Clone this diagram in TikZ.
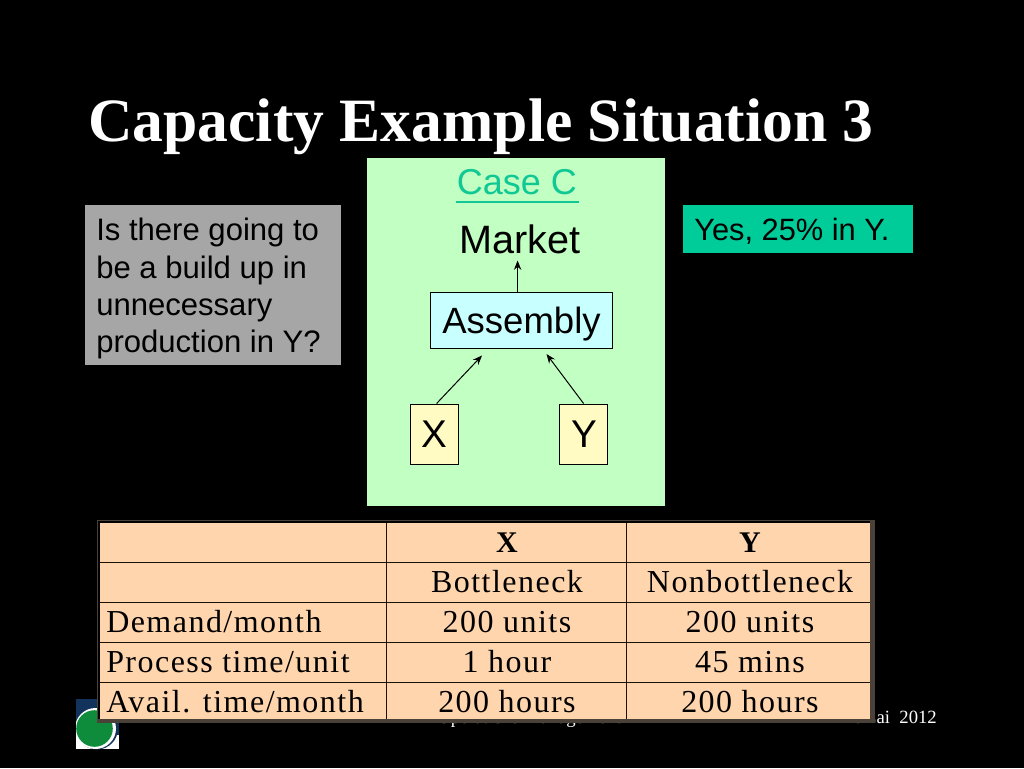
\documentclass[tikz,border=0pt]{standalone}
\usepackage{fontspec}
\setmainfont{Liberation Serif}
\setsansfont{Liberation Sans}
\newfontfamily\tabfont[LetterSpace=4.6]{Liberation Serif}
\usetikzlibrary{arrows.meta}
\definecolor{casegreen}{HTML}{C2FFC2}
\definecolor{casehead}{HTML}{10C894}
\definecolor{asmblue}{HTML}{C8FFFF}
\definecolor{partyel}{HTML}{FFFBC2}
\definecolor{askgrey}{HTML}{A6A6A6}
\definecolor{ansgreen}{HTML}{00CC99}
\definecolor{tabfill}{HTML}{FFD5AD}
\definecolor{tabline}{HTML}{1E1208}
\definecolor{tabedge}{HTML}{4A4238}
\definecolor{logonavy}{HTML}{12335C}
\definecolor{logogreen}{HTML}{0E8C3C}
\tikzset{
  px/.style={x=0.75pt,y=-0.75pt},
  sf/.style={font=\sffamily\fontsize{#1}{#1}\selectfont,text=black},
  partbox/.style={draw=black,line width=0.9pt,minimum width=36pt,minimum height=45pt,inner sep=0pt,fill=partyel},
  conn/.style={line width=0.75pt,-{Stealth[length=7pt,width=5.5pt]}},
  tabcell/.style={font=\tabfont\fontsize{24}{24}\selectfont,text=black,inner sep=0pt,anchor=base},
  tabhead/.style={font=\tabfont\bfseries\fontsize{22.5}{22.5}\selectfont,text=black,inner sep=0pt,anchor=base},
  tabrow/.style={font=\tabfont\fontsize{24}{24}\selectfont,text=black,inner sep=0pt,anchor=base west},
  tabrule/.style={draw=tabline,line width=0.9pt}
}
\begin{document}
\begin{tikzpicture}[px]
\useasboundingbox (0,0) rectangle (1024,768);
\fill[black] (0,0) rectangle (1024,768);
% logo
\begin{scope}
\clip (76,699) rectangle (119,749);
\fill[logonavy] (76,699) rectangle (119,735);
\fill[white] (76,735) rectangle (119,749);
\fill[logonavy] (97,728.5) circle (21);
\fill[white] (95.5,728.5) circle (20.5);
\fill[logogreen] (94.5,728.5) circle (18.3);
\end{scope}
% footer (mostly behind the table)
\node[anchor=base east,text=white,inner sep=0pt,font=\fontsize{14}{14}\selectfont] (foot) at (937,723.5) {H. Lai\ \ 2012};
\node[anchor=base west,text=white,inner sep=0pt,font=\fontsize{14}{14}\selectfont] (footm) at (437,723.5) {Operations Management};
% title
\node[anchor=base west,text=white,inner sep=0pt,font=\bfseries\fontsize{46.2}{46.2}\selectfont] (title) at (88,141) {Capacity Example Situation 3};
% case panel
\node[fill=casegreen,minimum width=223.5pt,minimum height=261pt,inner sep=0pt,anchor=north west] (panel) at (367,158) {};
\node[anchor=base,inner sep=0pt,sf=27,text=casehead] (case) at (517,194.5) {Case C};
\coordinate (ulL) at (456,202);
\coordinate (ulR) at (579,202);
\draw[casehead,line width=1pt] (ulL) -- (ulR);
\node[anchor=base,inner sep=0pt,sf=29.7] (market) at (520,253) {Market};
\node[draw=black,line width=0.9pt,fill=asmblue,minimum width=136.5pt,minimum height=42pt,inner sep=0pt,anchor=north west] (asm) at (430,291.5) {};
\node[anchor=base,inner sep=0pt,sf=27.4] (asmt) at (521.5,333) {Assembly};
\node[partbox,anchor=north west] (x) at (410,403.5) {};
\node[anchor=base,inner sep=0pt,sf=29] (xt) at (434.5,447) {X};
\node[partbox,anchor=north west] (y) at (559,403.5) {};
\node[anchor=base,inner sep=0pt,sf=29] (yt) at (584,447) {Y};
\coordinate (tipM) at (517.6,260.5);
\coordinate (tipX) at (482,355.5);
\coordinate (tipY) at (546.5,354);
\draw[conn] (asm.north west -| tipM) -- (tipM);
\draw[conn] (x.north) ++(2,0) -- (tipX);
\draw[conn] (y.north) -- (tipY);
% question
\node[fill=askgrey,minimum width=192pt,minimum height=120pt,inner sep=0pt,anchor=north west] (ask) at (85,205) {};
\foreach \t/\yy in {Is there going to/240.5, be a build up in/278.5, unnecessary/315.5, production in Y?/352.5}
  \node[anchor=base west,inner sep=0pt,sf=23.3] at (96,\yy) {\t};
% answer
\node[fill=ansgreen,minimum width=172.5pt,minimum height=36pt,inner sep=0pt,anchor=north west] (ans) at (683,205) {};
\node[anchor=base west,inner sep=0pt,sf=23.1] (anst) at (694,240.5) {Yes, 25\% in Y.};
% table
\fill[tabedge] (96.5,520) rectangle (875,723);
\fill[black] (97.5,521) rectangle (870,719);
\node[fill=tabfill,minimum width=577.5pt,minimum height=147pt,inner sep=0pt,anchor=north west] (tab) at (100,523) {};
\foreach \yy in {562.5,602.5,642.5,682.4}
  \draw[tabrule] (100,\yy) -- (870,\yy);
\foreach \xx in {386.5,626.5}
  \draw[tabrule] (\xx,523) -- (\xx,719);
\node[tabhead] at (507,552) {X};
\node[tabhead] at (750,552) {Y};
\node[tabcell] at (507,592) {Bottleneck};
\node[tabcell] at (750,592) {Nonbottleneck};
\node[tabrow] at (106,632) {Demand/month};
\node[tabcell] at (507,632) {200 units};
\node[tabcell] at (750,632) {200 units};
\node[tabrow] at (106,672) {Process time/unit};
\node[tabcell] at (507,672) {1 hour};
\node[tabcell] at (750,672) {45 mins};
\node[tabrow] at (106,712) {Avail. time/month};
\node[tabcell] at (507,712) {200 hours};
\node[tabcell] at (750,712) {200 hours};
\end{tikzpicture}
\end{document}
